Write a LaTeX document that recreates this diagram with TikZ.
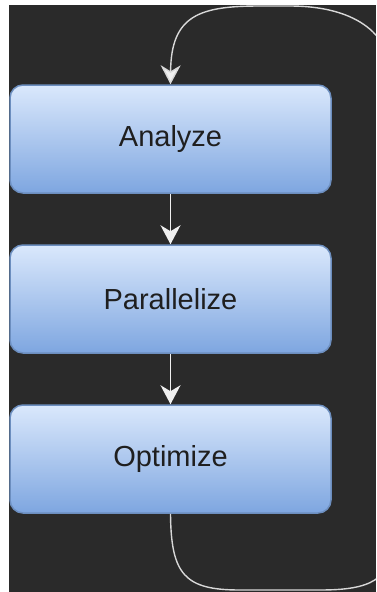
\documentclass[tikz,border=0pt]{standalone}
\usepackage{fontspec}
\setmainfont{Liberation Sans}
\usetikzlibrary{arrows.meta}
\definecolor{canvas}{HTML}{2A2A2A}
\definecolor{boxtop}{HTML}{DAE8FC}
\definecolor{boxbot}{HTML}{7EA6E0}
\definecolor{boxline}{HTML}{6C8EBF}
\definecolor{wire}{HTML}{F0F0F0}
\definecolor{loopwire}{HTML}{D8D8D8}
\tikzset{
  stepbox/.style={rectangle, rounded corners=13pt, draw=boxline, line width=1.5pt,
    top color=boxtop, bottom color=boxbot, minimum width=321pt, minimum height=108pt,
    inner sep=0pt, font=\fontsize{29}{35}\selectfont, text=black!88},
  flow/.style={draw=wire, line width=1.6pt,
    -{Stealth[length=19pt,width=20pt,inset=6pt,fill=wire]}},
  loopflow/.style={flow, draw=loopwire, line width=1.4pt},
}
\begin{document}
\begin{tikzpicture}[x=1pt,y=-1pt]
  % page and dark canvas
  \fill[white] (0,0) rectangle (376,592);
  \fill[canvas] (9,5) rectangle (376,592);
  \useasboundingbox (0,0) rectangle (376,592);

  % the three stages
  \node[stepbox] (analyze)  at (170.5,139) {Analyze};
  \node[stepbox] (parallel) at (170.5,299) {Parallelize};
  \node[stepbox] (optimize) at (170.5,459) {Optimize};

  % straight connectors
  \draw[flow] (analyze.south) -- (parallel.north);
  \draw[flow] (parallel.south) -- (optimize.north);

  % feedback loop around the right side
  \begin{scope}
    \clip (9,5) rectangle (376,592);
    \draw[loopflow] (optimize.south)
      .. controls (171,575) and (185,590) .. (240,590)
      -- (320,590)
      .. controls (370,590) and (392,580) .. (392,540)
      -- (392,80)
      .. controls (392,30) and (350,6) .. (290,6)
      -- (260,6)
      .. controls (200,6) and (171,15) .. (analyze.north);
  \end{scope}
\end{tikzpicture}
\end{document}
